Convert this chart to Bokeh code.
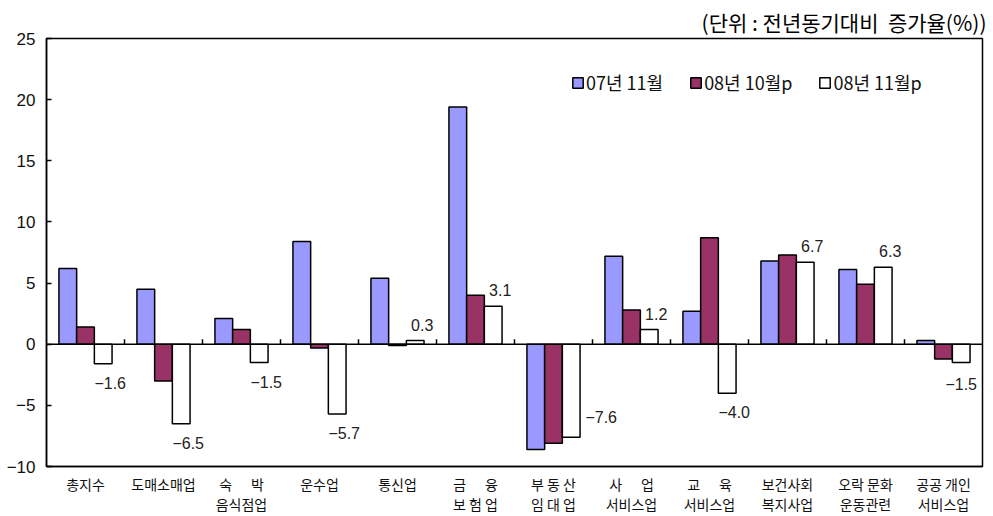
from bokeh.plotting import figure
from bokeh.models import (ColumnDataSource, FixedTicker, Legend, LegendItem,
                          Span, Title, Range1d)
from bokeh.embed import file_html
from bokeh.resources import INLINE
from bokeh.core.properties import value

NB = "\u00a0"

# Year-on-year growth rate (%) by industry
categories = ["총지수", "도매소매업", f"숙{NB*6}박\n음식점업", "운수업", "통신업",
              f"금{NB*6}융\n보{NB}험{NB}업",
              f"부{NB}동{NB}산\n임{NB}대{NB}업",
              f"사{NB*6}업\n서비스업",
              f"교{NB*6}육\n서비스업",
              "보건사회\n복지사업", f"오락{NB}문화\n운동관련", f"공공{NB}개인\n서비스업"]
series_names = ["07년 11월", "08년 10월p", "08년 11월p"]
nov07 = [6.2, 4.5, 2.1, 8.4, 5.4, 19.4, -8.6, 7.2, 2.7, 6.8, 6.1, 0.3]
oct08 = [1.4, -3.0, 1.2, -0.3, -0.1, 4.0, -8.1, 2.8, 8.7, 7.3, 4.9, -1.2]
nov08 = [-1.6, -6.5, -1.5, -5.7, 0.3, 3.1, -7.6, 1.2, -4.0, 6.7, 6.3, -1.5]
y_ticks = [-10, -5, 0, 5, 10, 15, 20, 25]

colors = ["#9999FF", "#993366", "#FFFFFF"]
KR = "Noto Sans CJK KR"
NUM = "Liberation Sans"

n = len(categories)
bar_w = 0.227
centers = [i + 0.5 for i in range(n)]

p = figure(width=993, height=516, output_backend="svg", toolbar_location=None,
           x_range=Range1d(0, n), y_range=Range1d(-10, 25),
           min_border_left=46, min_border_right=11, min_border_top=38,
           min_border_bottom=40)
p.background_fill_color = "white"
p.border_fill_color = "white"
p.xgrid.visible = False
p.ygrid.visible = False
p.outline_line_color = "black"
p.outline_line_width = 1.5

# unit note, top right
p.add_layout(Title(text=f"(단위 : 전년동기대비{NB}{NB}증가율(%))", align="right",
                   vertical_align="top",
                   text_font=KR, text_font_size="21px", text_font_style="normal",
                   text_color="black", offset=-4, standoff=0), "above")

renderers = []
for k, (vals, col) in enumerate(zip([nov07, oct08, nov08], colors)):
    src = ColumnDataSource(dict(x=[c + (k - 1) * bar_w for c in centers], top=vals))
    r = p.vbar(x="x", top="top", bottom=0, width=bar_w, source=src,
               fill_color=col, line_color="black", line_width=1.5)
    renderers.append(r)

# zero line and category dividers sitting on it
p.add_layout(Span(location=0, dimension="width", line_color="black", line_width=1.5))
p.segment(x0=list(range(1, n)), x1=list(range(1, n)), y0=[0] * (n - 1),
          y1=[0.4] * (n - 1), line_color="black", line_width=1.5)

# value labels for the latest month
lab_x, lab_y, xo, yo, txt = [], [], [], [], []
for i, v in enumerate(nov08):
    lab_x.append(centers[i] + bar_w)
    lab_y.append(v)
    txt.append(f"{v:.1f}".replace("-", "\u2212"))
    if i == 6:
        xo.append(30)
        yo.append(-20)
    elif i == n - 1:
        xo.append(0)
        yo.append(21)
    elif v >= 0:
        xo.append(7)
        yo.append(-16)
    else:
        xo.append(7)
        yo.append(19)
lsrc = ColumnDataSource(dict(x=lab_x, y=lab_y, t=txt, xo=xo, yo=yo))
p.text(x="x", y="y", text="t", x_offset="xo", y_offset="yo", source=lsrc,
       text_font=value(NUM), text_font_size="16px", text_color="#222222",
       text_align="center", text_baseline="middle")

# axes
p.yaxis.ticker = FixedTicker(ticks=y_ticks)
p.yaxis.major_label_overrides = {t: str(t).replace("-", "\u2212") for t in y_ticks}
p.yaxis.major_label_text_font = NUM
p.yaxis.major_label_text_font_size = "17px"
p.yaxis.major_label_text_color = "#111111"
p.yaxis.major_tick_in = 5
p.yaxis.major_tick_out = 0
p.yaxis.minor_tick_line_color = None
p.yaxis.axis_line_color = "black"
p.yaxis.axis_line_width = 1.5
p.yaxis.major_tick_line_width = 1.5
p.yaxis.major_label_standoff = 11

p.xaxis.ticker = FixedTicker(ticks=centers)
p.xaxis.major_label_overrides = {c: lab for c, lab in zip(centers, categories)}
p.xaxis.major_label_text_font = KR
p.xaxis.major_label_text_font_size = "14px"
p.xaxis.major_label_text_color = "#111111"
p.xaxis.major_label_text_line_height = 1.02
p.xaxis.major_tick_line_color = None
p.xaxis.minor_tick_line_color = None
p.xaxis.axis_line_color = "black"
p.xaxis.axis_line_width = 1.5
p.xaxis.major_label_standoff = 1

legend = Legend(items=[LegendItem(label=nm, renderers=[r]) for nm, r in zip(series_names, renderers)],
                orientation="horizontal", location=(525, 371),
                label_text_font=KR, label_text_font_size="18px",
                label_text_color="#111111",
                glyph_width=13, glyph_height=13, spacing=26, label_standoff=2,
                background_fill_alpha=0, border_line_color=None, padding=0,
                margin=0)
p.add_layout(legend, "center")

open("out.html", "w").write(file_html(p, INLINE))
